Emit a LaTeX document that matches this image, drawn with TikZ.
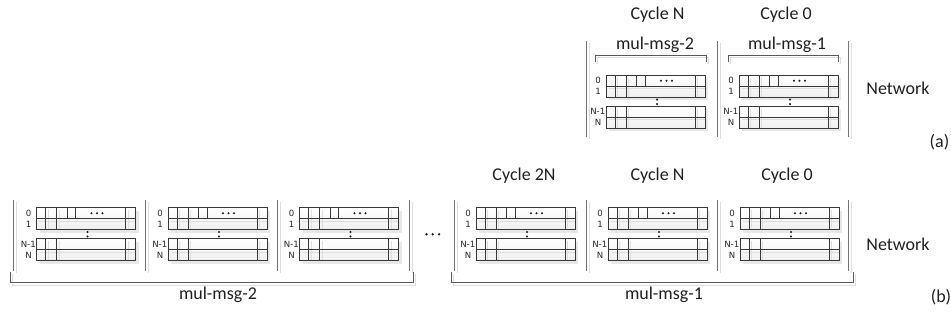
\documentclass[tikz,border=0pt]{standalone}
\usepackage{fontspec}
\setmainfont{Carlito}
\newfontfamily\idxfont{DejaVu Sans}
\usetikzlibrary{positioning}

% one register box: #1 left, #2 top, #3 = 1 for the row with extra fields
\newcommand\regbox[3]{%
  \begin{scope}[shift={(#1,#2)}]
    \fill[black!9] (3,3) rectangle (102,25);
    \shade[top color=white, bottom color=black!6] (0,0) rectangle (99,22);
    \draw[ghostline] (2.5,13.5) -- (99,13.5)
      (11.8,2.5) -- (11.8,22) (22.5,2.5) -- (22.5,22) (91.8,2.5) -- (91.8,22);
    \draw[regline] (0,0) rectangle (99,22);
    \draw[regline] (0,11) -- (99,11)
      (9.3,0) -- (9.3,22) (20,0) -- (20,22) (89.3,0) -- (89.3,22);
    \ifnum#3=1
      \draw[regline] (30.6,0) -- (30.6,11) (39,0) -- (39,11);
      \fill[black!90] (55,5.5) circle (1.1) (60.5,5.5) circle (1.1) (66,5.5) circle (1.1);
    \fi
  \end{scope}}

% a pair of registers with row indices: #1 box left, #2 top
\newcommand\regpair[2]{%
  \regbox{#1}{#2}{1}%
  \regbox{#1}{#2+31}{0}%
  \begin{scope}[shift={(#1,#2)}]
    \fill[black!90] (51,24.3) circle (1.15) (51,28.8) circle (1.15);
    \node[idx] at (-8,5.5) {0};
    \node[idx] at (-8,16.5) {1};
    \node[idx, anchor=east, inner xsep=0pt] at (-0.5,36.5) {N-1};
    \node[idx] at (-8,47.5) {N};
  \end{scope}}

% vertical divider with its faint shadow: #1 x, #2 top, #3 bottom
\newcommand\divider[3]{%
  \draw[ghostline] (#1+3,#2+2) -- (#1+3,#3+2);
  \draw[sepline] (#1,#2) -- (#1,#3);}

\begin{document}
\begin{tikzpicture}[x=1pt, y=-1pt,
  regline/.style={draw=black!78, line width=0.65pt},
  ghostline/.style={draw=black!13, line width=0.8pt},
  sepline/.style={draw=black!55, line width=0.8pt},
  brace/.style={draw=black!65, line width=0.8pt},
  idx/.style={font=\idxfont\fontsize{8.6}{9}\selectfont, text=black!85, inner sep=0pt},
  lbl/.style={font=\fontsize{18}{20}\selectfont, text=black!88, anchor=base, inner sep=0pt}]

\useasboundingbox (0,0) rectangle (951,320);

% ---------------- (a) ----------------
\node[lbl] (a-cN) at (657.5,20) {Cycle N};
\node[lbl] (a-c0) at (786,20) {Cycle 0};
\node[lbl] (a-m2) at (655,50) {mul-msg-2};
\node[lbl] (a-m1) at (787,50) {mul-msg-1};

\divider{586}{41}{137}
\divider{717.5}{41}{137}
\divider{848}{41}{137}

\foreach \l/\r in {595/706, 728/838}{
  \draw[ghostline] (\l+2.5,64) -- (\l+2.5,57.5) -- (\r+2.5,57.5) -- (\r+2.5,64);
  \draw[brace] (\l,62) -- (\l,55) -- (\r,55) -- (\r,62);
}

\regpair{606}{75.3}
\regpair{739}{75.3}

\node[lbl] (a-net) at (898,94.5) {Network};
\node[lbl] (a-tag) at (939.5,148) {(a)};

% ---------------- (b) ----------------
\node[lbl] (b-c2N) at (524,180.5) {Cycle 2N};
\node[lbl] (b-cN) at (657.5,180.5) {Cycle N};
\node[lbl] (b-c0) at (787,180.5) {Cycle 0};

\foreach \x in {13,145,277,409,454,586,717,848}{
  \divider{\x}{200}{271}
}

\foreach \bx in {36.5,168,299.5,476,608,740}{
  \regpair{\bx}{207.7}
}

\fill[black!90] (426.5,234.3) circle (1.3) (432.7,234.3) circle (1.3) (439,234.3) circle (1.3);

\foreach \l/\r in {10/413, 451/853}{
  \draw[ghostline] (\l+2.5,274) -- (\l+2.5,285) -- (\r+2.5,285) -- (\r+2.5,274);
  \draw[brace] (\l,272) -- (\l,282.5) -- (\r,282.5) -- (\r,272);
}

\node[lbl] (b-m2) at (218,300) {mul-msg-2};
\node[lbl] (b-m1) at (664,300) {mul-msg-1};
\node[lbl] (b-net) at (898,250.5) {Network};
\node[lbl] (b-tag) at (941,303) {(b)};

\end{tikzpicture}
\end{document}
